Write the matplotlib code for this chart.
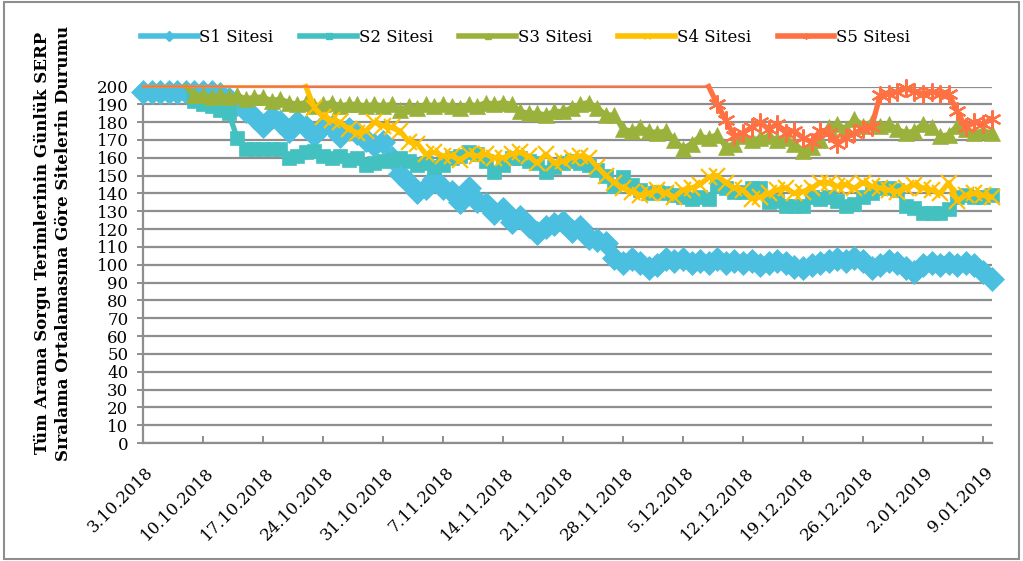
"""
Daily average SERP position of five sites, 3.10.2018 - 10.01.2019.
"""

from datetime import date, timedelta

import numpy as np
import matplotlib
matplotlib.use("Agg")
import matplotlib.pyplot as plt
import matplotlib.transforms as mtransforms
from matplotlib.lines import Line2D
from matplotlib.patches import Rectangle


START_DAY = date(2018, 10, 3)
N_DAYS = 100
NOT_RANKED = 200

SERIES_NAMES = ["S1 Sitesi", "S2 Sitesi", "S3 Sitesi", "S4 Sitesi", "S5 Sitesi"]

s1_values = [
    197, 197, 197, 197, 197, 197, 197,
    197, 197, 196, 193, 190, 186, 183,
    178, 183, 180, 175, 180, 177, 173,
    178, 177, 172, 176, 174, 170, 167,
    169, 160, 151, 146, 141, 143, 148,
    143, 141, 135, 143, 136, 134, 129,
    131, 124, 127, 122, 118, 121, 123,
    124, 119, 121, 115, 114, 112, 104,
    101, 103, 101, 98, 100, 103, 102,
    103, 101, 102, 101, 103, 101, 102,
    101, 102, 100, 101, 102, 101, 99,
    98, 100, 101, 102, 103, 102, 104,
    102, 98, 100, 102, 101, 98, 96,
    100, 101, 100, 101, 100, 101, 100,
    96, 92,
]
s2_values = [
    200, 200, 200, 200, 200, 200, 192,
    190, 189, 187, 185, 171, 165, 165,
    165, 165, 165, 160, 161, 163, 164,
    161, 160, 161, 159, 160, 156, 157,
    158, 159, 160, 158, 156, 157, 155,
    156, 160, 161, 163, 162, 158, 152,
    156, 160, 160, 158, 157, 152, 155,
    157, 158, 157, 156, 153, 150, 144,
    149, 145, 142, 140, 141, 140, 139,
    138, 137, 138, 137, 144, 143, 141,
    141, 143, 143, 135, 136, 133, 133,
    133, 138, 137, 138, 136, 133, 134,
    138, 140, 143, 143, 142, 133, 132,
    129, 129, 129, 131, 138, 139, 138,
    138, 139,
]
s3_values = [
    200, 200, 200, 200, 200, 200, 195,
    195, 194, 195, 194, 195, 193, 194,
    194, 192, 193, 191, 190, 191, 189,
    190, 191, 189, 190, 190, 189, 190,
    189, 190, 187, 189, 188, 190, 189,
    190, 189, 188, 190, 189, 191, 190,
    191, 190, 186, 185, 185, 184, 186,
    186, 188, 190, 191, 188, 184, 184,
    176, 175, 177, 175, 174, 175, 170,
    165, 168, 172, 171, 173, 166, 168,
    172, 170, 171, 172, 170, 171, 168,
    164, 166, 170, 177, 179, 176, 182,
    178, 180, 178, 179, 176, 174, 175,
    179, 177, 172, 173, 178, 176, 174,
    175, 174,
]
s4_values = [
    200, 200, 200, 200, 200, 200, 200,
    200, 200, 200, 200, 200, 200, 200,
    200, 200, 200, 200, 200, 200, 188,
    183, 181, 180, 176, 174, 175, 180,
    178, 177, 175, 169, 168, 162, 163,
    161, 161, 159, 162, 161, 162, 160,
    160, 162, 163, 161, 157, 162, 157,
    158, 160, 161, 160, 155, 150, 146,
    143, 141, 139, 140, 142, 140, 138,
    142, 143, 145, 149, 150, 146, 143,
    142, 137, 138, 140, 142, 143, 140,
    141, 143, 146, 146, 144, 145, 143,
    146, 144, 143, 142, 141, 143, 145,
    143, 142, 140, 146, 136, 139, 140,
    139, 138,
]
s5_values = [
    200, 200, 200, 200, 200, 200, 200,
    200, 200, 200, 200, 200, 200, 200,
    200, 200, 200, 200, 200, 200, 200,
    200, 200, 200, 200, 200, 200, 200,
    200, 200, 200, 200, 200, 200, 200,
    200, 200, 200, 200, 200, 200, 200,
    200, 200, 200, 200, 200, 200, 200,
    200, 200, 200, 200, 200, 200, 200,
    200, 200, 200, 200, 200, 200, 200,
    200, 200, 200, 200, 190, 181, 172,
    174, 177, 180, 176, 179, 174, 175,
    171, 169, 175, 174, 168, 171, 174,
    176, 177, 195, 196, 197, 199, 197,
    196, 197, 196, 196, 186, 177, 180,
    179, 182,
]

SERIES_VALUES = [s1_values, s2_values, s3_values, s4_values, s5_values]
COLORS = ["#4BBFE0", "#43C1C1", "#9AB23C", "#FFC000", "#FF7043"]
ASTERISK = (6, 2, 0)
MARKERS = ["D", "s", "^", "x", ASTERISK]
MARKER_SIZES = [12, 10.5, 11.5, 12, 13]

Y_LABEL = "Tüm Arama Sorgu Terimlerinin Günlük SERP\nSıralama Ortalamasına Göre Sitelerin Durumu"
GRID_GREY = "#8e8e8e"
FONT = ["DejaVu Serif"]


def day_labels() -> tuple[list[int], list[str]]:
    ticks = list(range(0, N_DAYS, 7))
    labels = []
    for t in ticks:
        d = START_DAY + timedelta(days=t)
        labels.append(f"{d.day}.{d.month:02d}.{d.year}")
    return ticks, labels


def plot_series(ax, x, values, color, marker, ms, z):
    v = np.asarray(values, dtype=float)
    ranked = v < NOT_RANKED
    # thick part: ranked points plus the step in from / out to 200
    keep = ranked.copy()
    keep[1:] |= ranked[:-1]
    keep[:-1] |= ranked[1:]
    thick = np.where(keep, v, np.nan)

    ax.plot(x, v, color=color, lw=1.6, zorder=z, clip_on=False)
    mark_idx = list(np.flatnonzero(ranked))
    filled = marker not in ("x", ASTERISK)
    ax.plot(
        x, thick,
        color=color, lw=3.8, zorder=z, clip_on=False,
        marker=marker, markevery=mark_idx, markersize=ms,
        markerfacecolor=color if filled else "none",
        markeredgecolor=color, markeredgewidth=1.6 if not filled else 0.5,
        solid_joinstyle="round",
    )


def main() -> None:
    plt.rcParams["font.family"] = FONT

    fig = plt.figure(figsize=(10.23, 5.61), dpi=100)
    ax = fig.add_axes([143 / 1023, 1 - 443 / 561, (991.5 - 143) / 1023, (443 - 86.5) / 561])

    x = np.arange(N_DAYS)
    for k, (vals, col, mk, ms) in enumerate(zip(SERIES_VALUES, COLORS, MARKERS, MARKER_SIZES)):
        plot_series(ax, x, vals, col, mk, ms, 3 + k)

    ax.set_xlim(0, N_DAYS - 1)
    ax.set_ylim(0, 200)
    ax.set_yticks(range(0, 201, 10))
    ax.yaxis.grid(True, color=GRID_GREY, lw=1.6)
    ax.set_axisbelow(True)

    # date labels drawn by hand so the diagonal offset sticks
    ticks, labels = day_labels()
    ax.set_xticks(ticks)
    ax.set_xticklabels([])
    shift = mtransforms.ScaledTranslation(2 / 100, -21 / 100, fig.dpi_scale_trans)
    for t, lab in zip(ticks, labels):
        ax.text(t, 0, lab, transform=ax.get_xaxis_transform() + shift,
                rotation=45, rotation_mode="anchor", ha="right", va="top", fontsize=12)

    for side in ("top", "right"):
        ax.spines[side].set_visible(False)
    for side in ("left", "bottom"):
        ax.spines[side].set_color(GRID_GREY)
        ax.spines[side].set_linewidth(1.6)
    ax.tick_params(axis="y", direction="out", length=4.5, width=1.4, color=GRID_GREY,
                   labelsize=12, pad=6)
    ax.tick_params(axis="x", direction="in", length=5, width=1.4, color=GRID_GREY)

    fig.text(53 / 1023, 1 - 243 / 561, Y_LABEL, rotation=90, ha="center", va="center",
             fontsize=12, fontweight="bold", linespacing=1.3)

    handles = [
        Line2D([], [], color=c, lw=4, marker=m, markersize=5,
               markerfacecolor=c, markeredgecolor=c)
        for c, m in zip(COLORS, MARKERS)
    ]
    fig.legend(handles, SERIES_NAMES, loc="center", bbox_to_anchor=(0.5 + 14 / 1023, 1 - 37 / 561),
               ncol=5, frameon=False, fontsize=12, handlelength=3.4,
               handletextpad=0.1, columnspacing=1.6)

    fig.patches.append(Rectangle((0.004, 0.004), 0.992, 0.992, transform=fig.transFigure,
                                 fill=False, edgecolor=GRID_GREY, lw=1.5))

    fig.savefig("out.png", dpi=100)
    plt.close(fig)


if __name__ == "__main__":
    main()
